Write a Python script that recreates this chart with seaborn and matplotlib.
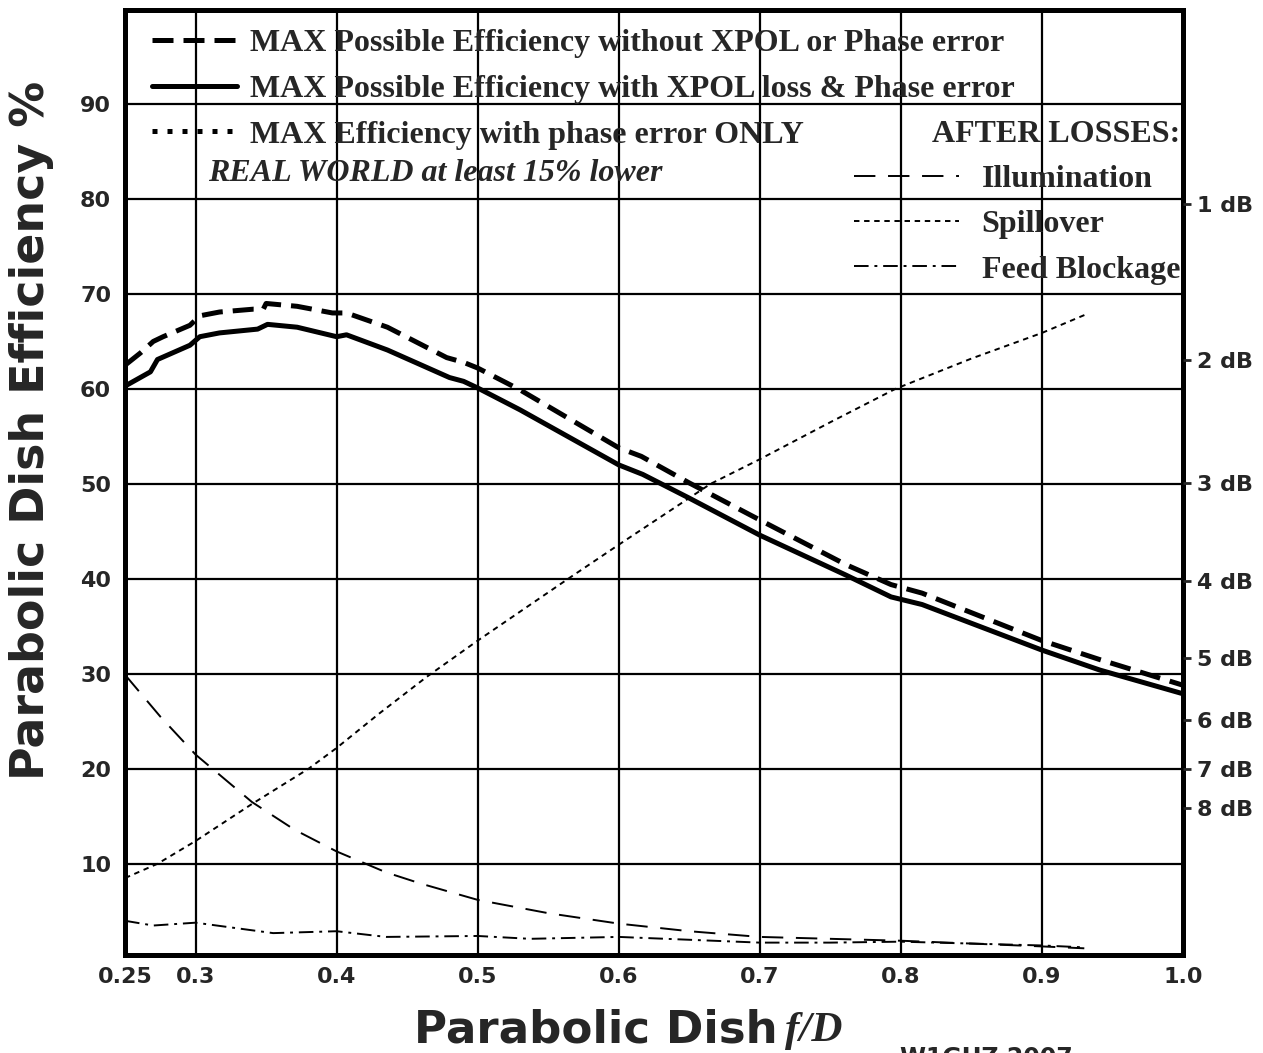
import numpy as np
import matplotlib
matplotlib.use("Agg")
import matplotlib.pyplot as plt
from matplotlib.lines import Line2D
import seaborn as sns

# DATI
fd_max = [0.25, 0.261, 0.27, 0.277, 0.296, 0.303, 0.317, 0.341, 0.348, 0.35, 0.372, 0.397, 0.407,
          0.436, 0.478, 0.49, 0.5, 0.53, 0.6, 0.616, 0.65, 0.7, 0.761, 0.793, 0.815, 0.9, 0.941, 1.0]
eff_max = [62.5, 63.8, 65.0, 65.5, 66.7, 67.7, 68.1, 68.4, 68.4, 69.0, 68.7, 68.0, 68.0,
           66.5, 63.3, 62.8, 62.2, 59.9, 53.8, 52.9, 50.1, 46.2, 41.5, 39.4, 38.5, 33.5, 31.5, 28.8]

fd_xpol = [0.25, 0.268, 0.273, 0.296, 0.303, 0.317, 0.344, 0.351, 0.372, 0.4, 0.407, 0.436, 0.48,
           0.49, 0.5, 0.53, 0.6, 0.617, 0.65, 0.7, 0.761, 0.793, 0.815, 0.9, 0.941, 1.0]
eff_xpol = [60.3, 61.8, 63.1, 64.6, 65.5, 65.9, 66.3, 66.8, 66.5, 65.5, 65.7, 64.1, 61.2,
            60.8, 60.1, 57.8, 52.0, 51.0, 48.5, 44.6, 40.4, 38.1, 37.3, 32.5, 30.4, 27.9]

fd_illum = [0.25, 0.275, 0.3, 0.34, 0.37, 0.4, 0.435, 0.46, 0.5, 0.55, 0.6, 0.65, 0.7, 0.75,
            0.8, 0.85, 0.9, 0.93]
loss_illum = [29.9, 25.5, 21.5, 16.5, 13.6, 11.3, 9.1, 7.9, 6.2, 4.8, 3.7, 2.9, 2.3, 2.1,
              1.9, 1.6, 1.3, 1.1]

fd_spill = [0.25, 0.273, 0.3, 0.34, 0.38, 0.4, 0.43, 0.464, 0.5, 0.564, 0.6, 0.665, 0.7, 0.75,
            0.796, 0.85, 0.9, 0.932]
loss_spill = [8.5, 10.0, 12.4, 16.3, 20.0, 22.2, 25.8, 29.7, 33.5, 40.0, 43.6, 50.0, 52.6, 56.5,
              60.0, 63.2, 65.9, 67.9]

fd_block = [0.25, 0.27, 0.3, 0.355, 0.4, 0.435, 0.5, 0.537, 0.6, 0.65, 0.7, 0.75, 0.8, 0.85,
            0.9, 0.93]
loss_block = [4.0, 3.5, 3.8, 2.7, 2.9, 2.3, 2.4, 2.1, 2.3, 2.0, 1.7, 1.7, 1.8, 1.6, 1.4, 1.2]

xticks = [0.25, 0.3, 0.4, 0.5, 0.6, 0.7, 0.8, 0.9, 1.0]
xlabels = ["0.25", "0.3", "0.4", "0.5", "0.6", "0.7", "0.8", "0.9", "1.0"]
yticks = [10, 20, 30, 40, 50, 60, 70, 80, 90]
db_vals = [1, 2, 3, 4, 5, 6, 7, 8]

# STILE
sns.set_style("white")
plt.rcParams['font.family'] = ['DejaVu Sans']
plt.rcParams['font.weight'] = 'bold'

fig = plt.figure(figsize=(12.63, 10.53), dpi=100)
ax = fig.add_axes([0.099, 0.0931, 0.8377, 0.8974])

thick = 3.6
thin = 1.4
ls_max = (0, (4.2, 2.0))
ls_phase = (0, (1.0, 2.0))
ls_illum = (0, (11, 6.5))
ls_spill = (0, (2.8, 2.4))
ls_block = (0, (7.5, 3, 1.5, 3))

sns.lineplot(x=fd_max, y=eff_max, ax=ax, color='black', lw=thick, linestyle=ls_max, estimator=None)
sns.lineplot(x=fd_xpol, y=eff_xpol, ax=ax, color='black', lw=thick, estimator=None)
sns.lineplot(x=fd_illum, y=loss_illum, ax=ax, color='black', lw=thin, linestyle=ls_illum, estimator=None)
sns.lineplot(x=fd_spill, y=loss_spill, ax=ax, color='black', lw=thin, linestyle=ls_spill, estimator=None)
sns.lineplot(x=fd_block, y=loss_block, ax=ax, color='black', lw=thin, linestyle=ls_block, estimator=None)

ax.set_xlim(0.25, 1.0)
ax.set_ylim(0.4, 99.9)
ax.set_xticks(xticks)
ax.set_xticklabels(xlabels)
ax.set_yticks(yticks)
ax.tick_params(axis='both', length=0, labelsize=16)
ax.tick_params(axis='x', pad=9)
ax.tick_params(axis='y', pad=10)
ax.grid(True, color='black', lw=1.6)
for s in ax.spines.values():
    s.set_visible(True)
    s.set_color('black')
    s.set_linewidth(3.6)

# ASSE DESTRO IN dB
ax2 = ax.twinx()
ax2.set_ylim(ax.get_ylim())
ax2.set_yticks([100 * 10 ** (-d / 10) for d in db_vals])
ax2.set_yticklabels([f"{d} dB" for d in db_vals])
ax2.tick_params(axis='y', length=6, width=2, labelsize=16, pad=4)
for s in ax2.spines.values():
    s.set_visible(False)

# ETICHETTE
ax.set_ylabel("Parabolic Dish Efficiency %", fontsize=33, fontweight='bold')
ax.yaxis.set_label_coords(-0.067, 0.555)
ax.set_xlabel("Parabolic Dish", fontsize=32.5, fontweight='bold')
ax.xaxis.set_label_coords(0.445, -0.057)
ax.annotate("f/D", xy=(1, 0), xycoords=ax.xaxis.label, xytext=(5, 1), textcoords='offset points',
            ha='left', va='bottom', fontsize=31, fontweight='bold', fontstyle='italic',
            family='Liberation Serif')
fig.text(900 / 1263, 1 - 1046 / 1053, "W1GHZ 2007", ha='left', va='top', fontsize=17, fontweight='bold')

# LEGENDE
serif = {'family': 'Liberation Serif', 'weight': 'bold', 'size': 23}
h1 = [Line2D([], [], color='black', lw=thick, linestyle=ls_max),
      Line2D([], [], color='black', lw=thick),
      Line2D([], [], color='black', lw=thick, linestyle=ls_phase)]
lab1 = ["MAX Possible Efficiency without XPOL or Phase error",
        "MAX Possible Efficiency with XPOL loss & Phase error",
        "MAX Efficiency with phase error ONLY"]
leg1 = ax.legend(h1, lab1, loc='upper left', bbox_to_anchor=(0.0113, 0.9958), prop=serif, frameon=False,
                 handlelength=2.66, handletextpad=0.41, labelspacing=0.51, borderaxespad=0.0,
                 borderpad=0.47)
ax.add_artist(leg1)
ax.text(0.309, 82.7, "REAL WORLD at least 15% lower", fontsize=23, fontweight='bold',
        fontstyle='italic', family='Liberation Serif', va='center', ha='left')

h2 = [Line2D([], [], color='black', lw=thin, linestyle=ls_illum),
      Line2D([], [], color='black', lw=thin, linestyle=ls_spill),
      Line2D([], [], color='black', lw=thin, linestyle=ls_block)]
lab2 = ["Illumination", "Spillover", "Feed Blockage"]
leg2 = ax.legend(h2, lab2, loc='upper right', bbox_to_anchor=(0.9972, 0.884), prop=serif, frameon=False,
                 title="AFTER LOSSES:", title_fontproperties=serif, alignment='right',
                 handlelength=3.3, handletextpad=0.7, labelspacing=0.5, borderaxespad=0.0,
                 borderpad=0.0)

fig.savefig("out.png", dpi=100)
